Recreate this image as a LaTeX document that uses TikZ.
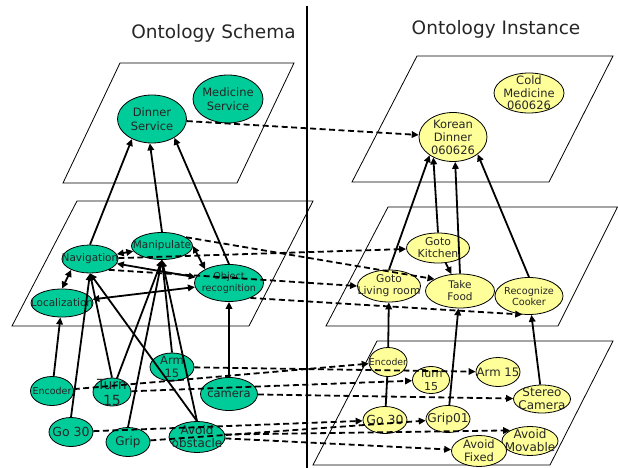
\documentclass[tikz,border=0pt]{standalone}
\usepackage{fontspec}
\setmainfont{DejaVu Sans}
\usetikzlibrary{shapes.geometric,arrows.meta}
\definecolor{gfill}{RGB}{0,204,153}
\definecolor{yfill}{RGB}{255,255,153}
\newcommand{\fsz}[2]{\fontsize{#1}{#2}\selectfont}
\begin{document}
\begin{tikzpicture}[x=1pt,y=-1pt,
  plane/.style={draw=black, line width=0.8pt},
  gn/.style={ellipse, draw=black, line width=0.8pt, fill=gfill, inner sep=0pt},
  yn/.style={ellipse, draw=black, line width=0.8pt, fill=yfill, inner sep=0pt},
  sz/.style 2 args={minimum width=#1pt, minimum height=#2pt},
  txt/.style 2 args={label={[align=center, inner sep=0pt, text=black!85, font=#1]center:{#2}}},
  tip/.tip={Triangle[length=7pt,width=6.5pt]},
  sol/.style={line width=1.8pt, -tip},
  dbl/.style={line width=1.8pt, tip-tip},
  das/.style={line width=1.8pt, dash pattern=on 6pt off 3.5pt, -tip},
  title/.style={font=\fsz{18.5}{22}, text=black!85, anchor=base, inner sep=0pt}
]
\useasboundingbox (0,0) rectangle (618,468);

% titles and divider
\node[title] (t1) at (213.5,39) {Ontology Schema};
\node[title] (t2) at (496,35) {Ontology Instance};
\draw[line width=1.3pt] (307,6) -- (307,468);

% planes
\draw[plane] (120,63) -- (294,63) -- (237,183) -- (63,183) -- cycle;
\draw[plane] (77,201) -- (313,201) -- (249,326) -- (12,326) -- cycle;
\draw[plane] (417,56) -- (613,56) -- (549,182) -- (352,182) -- cycle;
\draw[plane] (388,207) -- (617.5,207) -- (558,326) -- (326,326) -- cycle;
\draw[plane] (377,341) -- (613,341) -- (550,465) -- (313,465) -- cycle;

% schema nodes
\node[gn,sz={69}{48},txt={\fsz{11.5}{14}}{Dinner\\Service}] (ds) at (152,119) {};
\node[gn,sz={70}{48},txt={\fsz{11.5}{14}}{Medicine\\Service}] (ms) at (228,99) {};
\node[gn,sz={56}{28},txt={\fsz{10.5}{12}}{Navigation}] (nav) at (90,259) {};
\node[gn,sz={61}{27},txt={\fsz{10.5}{12}}{Manipulate}] (man) at (162,246) {};
\node[gn,sz={69}{37},txt={\fsz{9.6}{12}}{Object\\recognition}] (obj) at (229,283) {};
\node[gn,sz={62}{28},txt={\fsz{10.5}{12}}{Localization}] (loc) at (62,303) {};
\node[gn,sz={43}{29},txt={\fsz{9.5}{12}}{Encoder}] (encL) at (52,391) {};
\node[gn,sz={38}{28},txt={\fsz{14}{16}}{Turn\\15}] (t15L) at (112,392) {};
\node[gn,sz={44}{28},txt={\fsz{11.5}{13.5}}{Arm\\15}] (armL) at (172,367) {};
\node[gn,sz={57}{33},txt={\fsz{11.5}{13}}{camera}] (cam) at (229,394) {};
\node[gn,sz={44}{29},txt={\fsz{12.5}{14}}{Go 30}] (go30L) at (71,432) {};
\node[gn,sz={44}{29},txt={\fsz{12}{14}}{Grip}] (grip) at (128,442) {};
\node[gn,sz={56}{31},txt={\fsz{12}{13}}{Avoid\\obstacle}] (av) at (197,437) {};

% instance nodes
\node[yn,sz={68}{49},txt={\fsz{11.5}{13}}{Korean\\Dinner\\060626}] (kd) at (453,137) {};
\node[yn,sz={70}{40},txt={\fsz{11.5}{12.5}}{Cold\\Medicine\\060626}] (cm) at (529,93) {};
\node[yn,sz={63}{30},txt={\fsz{10.8}{12}}{Goto\\Kitchen}] (gk) at (438,248) {};
\node[yn,sz={63}{32},txt={\fsz{10.7}{12}}{Goto\\Living room}] (gl) at (389,286) {};
\node[yn,sz={69}{34},txt={\fsz{10.5}{12}}{Take\\Food}] (tf) at (460,291) {};
\node[yn,sz={68}{37},txt={\fsz{9.7}{11}}{Recognize\\Cooker}] (rc) at (529,296) {};
\node[yn,sz={38}{29},txt={\fsz{9.3}{11}}{Encoder}] (encR) at (388,362) {};
\node[yn,sz={37}{27},txt={\fsz{11}{13}}{Turn\\15}] (t15R) at (431,380) {};
\node[yn,sz={44}{29},txt={\fsz{11.7}{13}}{Arm 15}] (armR) at (498,372) {};
\node[yn,sz={57}{28},txt={\fsz{12}{13}}{Stereo\\Camera}] (st) at (542,399) {};
\node[yn,sz={44}{27},txt={\fsz{12.5}{14}}{Go 30}] (go30R) at (385,420) {};
\node[yn,sz={44}{27},txt={\fsz{12.2}{14}}{Grip01}] (g01) at (448,419) {};
\node[yn,sz={56}{29},txt={\fsz{12}{13}}{Avoid\\Movable}] (avM) at (530,441) {};
\node[yn,sz={55}{31},txt={\fsz{11.5}{13}}{Avoid\\Fixed}] (avF) at (479,451) {};

% schema solid connectors
\draw[sol] (nav.north) -- (ds.225);
\draw[sol] (man.north) -- (ds.265);
\draw[sol] (obj.north) -- (ds.-40);
\draw[dbl] (nav) -- (man);
\draw[dbl] (man.east) -- (obj.150);
\draw[dbl] (nav.210) -- (loc.north);
\draw[dbl] (nav) -- (obj);
\draw[dbl] (loc) -- (obj);
\draw[sol] (encL) -- (loc);
\draw[sol] (go30L.north) -- (nav.south);
\draw[sol] (t15L.north) -- (nav.south);
\draw[sol] (av.north) -- (nav.south);
\draw[sol] (t15L.70) -- (man.south);
\draw[sol] (grip.north) -- (man.south);
\draw[sol] (armL.north) -- (man.south);
\draw[sol] (av.north) -- (man.south);
\draw[sol] (cam) -- (obj);

% instance solid connectors
\draw[sol] (gl.north) -- (kd.218);
\draw[sol] (gk.north) -- (kd.226);
\draw[sol] (tf.north) -- (kd.275);
\draw[sol] (rc.north) -- (kd.-35);
\draw[sol] (gk) -- (tf);
\draw[sol] (encR) -- (gl);
\draw[sol] (g01) -- (tf);
\draw[sol] (st) -- (rc);
\draw[line width=1.8pt] (encR) -- (go30R);

% schema-to-instance dashed connectors
\draw[das] (ds) -- (kd);
\draw[das] (man.20) -- (tf.155);
\draw[das] (nav) -- (gk);
\draw[das] (nav.-30) -- (gl.180);
\draw[das] (obj.-35) -- (rc.250);
\draw[das] (armL) -- (armR);
\draw[das] (encL) -- (encR);
\draw[das] (t15L) -- (t15R);
\draw[das] (cam) -- (st);
\draw[das] (go30L) -- (go30R);
\draw[das] (grip) -- (g01);
\draw[das] (av.5) -- (avM.152);
\draw[das] (av) -- (avF);
\end{tikzpicture}
\end{document}
